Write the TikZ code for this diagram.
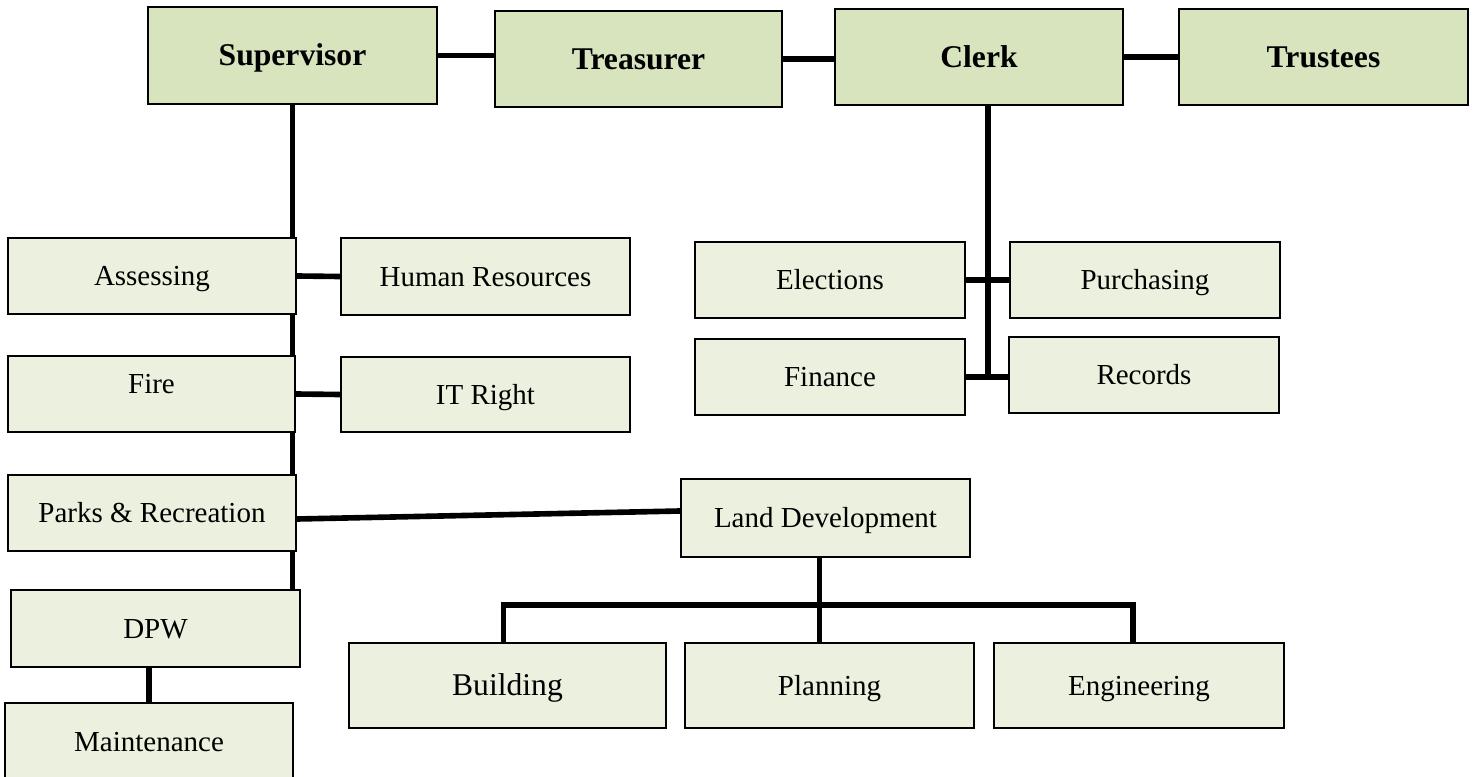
\documentclass[tikz,border=0pt]{standalone}
\usepackage{fontspec}
\setmainfont{Liberation Serif}
\usetikzlibrary{calc,backgrounds}

\definecolor{topgreen}{HTML}{D7E4BD}
\definecolor{unitgreen}{HTML}{EBF1DE}

\tikzset{
	topbox/.style={draw,line width=1.1pt,fill=topgreen,inner sep=0pt,text height=11.9pt,text depth=0pt,minimum width=5.78cm,minimum height=1.93cm,font=\fontsize{18}{21}\selectfont\bfseries},
	unitbox/.style={draw,line width=1.1pt,fill=unitgreen,inner sep=0pt,text height=10.9pt,text depth=0pt,minimum width=5.78cm,minimum height=1.53cm,font=\fontsize{16.5}{19}\selectfont},
	link/.style={line width=3.2pt}
}

\begin{document}
\begin{tikzpicture}[x=0.02cm,y=-0.02cm]

	\useasboundingbox (0,0) rectangle (1475,777);

	% top row
	\node[topbox] (sup) at (292.5,55.5) {Supervisor};
	\node[topbox,minimum width=5.74cm] (treas) at (638.5,59) {Treasurer};
	\node[topbox,minimum width=5.76cm] (clerk) at (979,57) {Clerk};
	\node[topbox] (trust) at (1323.5,57) {Trustees};

	% supervisor side
	\node[unitbox,minimum width=5.76cm] (assess) at (152,276) {Assessing};
	\node[unitbox] (hr) at (485.5,276.5) {Human Resources};
	\node[unitbox,minimum width=5.74cm,text depth=0.4cm] (fire) at (151.5,394) {Fire};
	\node[unitbox,minimum height=1.5cm] (itright) at (485.5,394.5) {IT Right};
	\node[unitbox,minimum width=5.76cm] (parks) at (152,513) {Parks \& Recreation};
	\node[unitbox] (dpw) at (155.5,628.5) {DPW};
	\node[unitbox,minimum width=5.76cm] (maint) at (149,741.5) {Maintenance};

	% clerk side
	\node[unitbox,minimum width=5.4cm] (elect) at (830,280) {Elections};
	\node[unitbox,minimum width=5.4cm] (purch) at (1145,280) {Purchasing};
	\node[unitbox,minimum width=5.4cm] (fin) at (830,377) {Finance};
	\node[unitbox,minimum width=5.4cm] (rec) at (1144,375) {Records};

	% land development
	\node[unitbox,minimum height=1.56cm] (land) at (825.5,518) {Land Development};
	\node[unitbox,minimum width=6.34cm,minimum height=1.7cm,text height=11.9pt,font=\fontsize{18}{21}\selectfont] (build) at (507.5,685.5) {Building};
	\node[unitbox,minimum height=1.7cm] (plan) at (829.5,685.5) {Planning};
	\node[unitbox,minimum width=5.8cm,minimum height=1.7cm] (eng) at (1139,685.5) {Engineering};

	\begin{pgfonlayer}{background}
		% top row links
		\draw[link] (sup.east) -- (sup.east -| treas.west);
		\draw[link] (treas.east) -- (treas.east -| clerk.west);
		\draw[link] (clerk) -- (trust);

		% supervisor trunk
		\draw[link] (sup.south) -- (sup.south |- dpw.north);
		\draw[link] (assess.east) -- (hr.west);
		\draw[link] (fire.east) -- (itright.west);
		\draw[link] ($(parks.east)+(0,6)$) -- ($(land.west)+(0,-7)$);
		\draw[link] (maint.north |- dpw.south) -- (maint.north);

		% clerk trunk
		\coordinate (ctrunk) at ($(clerk.south)+(9,0)$);
		\draw[link] (ctrunk) -- (ctrunk |- fin.east);
		\draw[link] (elect.east) -- (purch.west);
		\draw[link] (fin.east) -- (fin.east -| rec.west);

		% land development bracket
		\coordinate (ldrop) at ($(land.south)+(-6,0)$);
		\coordinate (bar) at ($(ldrop)+(0,47)$);
		\draw[link] (ldrop) -- (ldrop |- plan.north);
		\draw[link] ($(build.north)+(-4,0)$) |- (bar) -| ($(eng.north)+(-6,0)$);
	\end{pgfonlayer}

\end{tikzpicture}
\end{document}
